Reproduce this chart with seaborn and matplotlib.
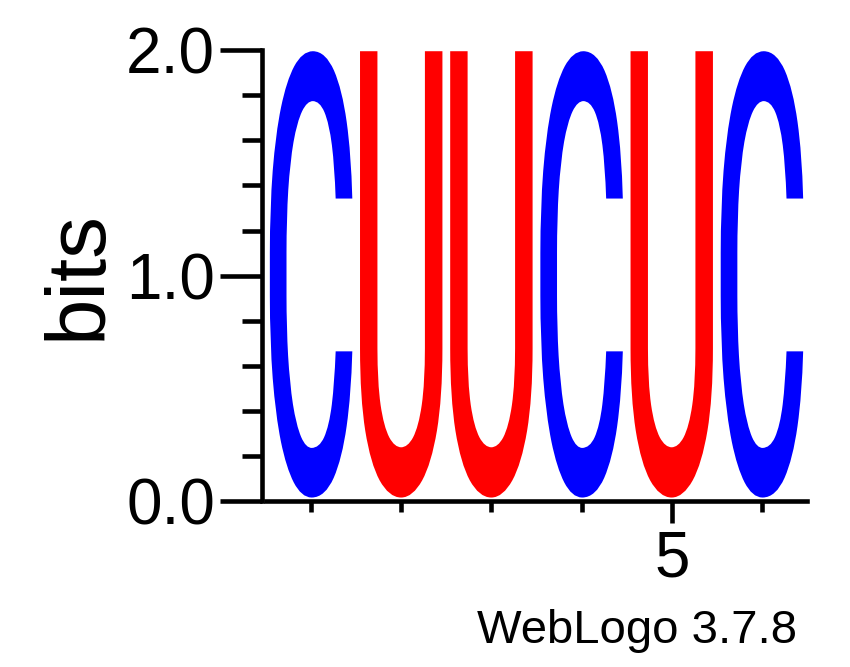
import matplotlib
matplotlib.use("Agg")
import matplotlib.pyplot as plt
import seaborn as sns
from matplotlib.textpath import TextPath
from matplotlib.patches import PathPatch
from matplotlib.font_manager import FontProperties
from matplotlib.transforms import Affine2D
from matplotlib.ticker import MultipleLocator, FixedLocator, FormatStrFormatter

# ? Datos del logo ----------------------------------------------------------

posiciones = [1, 2, 3, 4, 5, 6]
letras = ["C", "U", "U", "C", "U", "C"]
alturas = [2.0, 2.0, 2.0, 2.0, 2.0, 2.0]
colores = {"C": "#0000ff", "U": "#ff0000"}
ticks_x = [5]
etiquetas_x = ["5"]

sns.set_style("ticks")
plt.rcParams['font.family'] = ['Liberation Sans', 'DejaVu Sans']
plt.rcParams['text.color'] = 'black'
plt.rcParams['axes.labelcolor'] = 'black'
plt.rcParams['xtick.color'] = 'black'
plt.rcParams['ytick.color'] = 'black'

fig = plt.figure(figsize=(8.5, 6.67), dpi=100)
ax = fig.add_axes([0.3129, 0.2496, 0.6365, 0.6747])

# ? Letras como paths escalados a su altura --------------------------------

fp = FontProperties(family="Roboto")
ancho = 0.88
for pos, letra, alto in zip(posiciones, letras, alturas):
    tp = TextPath((0, 0), letra, size=1, prop=fp)
    bb = tp.get_extents()
    alto_ink = alto - 0.03
    tr = (Affine2D().translate(-bb.x0, -bb.y0)
          .scale(ancho / bb.width, alto_ink / bb.height)
          .translate(pos - ancho / 2, 0.02))
    ax.add_patch(PathPatch(tr.transform_path(tp), facecolor=colores[letra],
                           edgecolor=colores[letra], lw=2.2, joinstyle='miter'))

ax.set_xlim(0.5, 6.5)
ax.set_ylim(0, 2.0)

# ? Ejes -------------------------------------------------------------------

sns.despine(ax=ax)
ax.spines['left'].set_position(('outward', 3))
for s in ['left', 'bottom']:
    ax.spines[s].set_linewidth(3.3)
    ax.spines[s].set_color('black')

ax.yaxis.set_major_locator(MultipleLocator(1.0))
ax.yaxis.set_minor_locator(MultipleLocator(0.2))
ax.yaxis.set_major_formatter(FormatStrFormatter('%.1f'))
ax.tick_params(axis='y', which='major', length=30, width=3.3, labelsize=46, pad=3.6)
ax.tick_params(axis='y', which='minor', length=14.5, width=3.3)

ax.xaxis.set_major_locator(FixedLocator(ticks_x))
ax.set_xticklabels(etiquetas_x)
ax.xaxis.set_minor_locator(FixedLocator(posiciones))
ax.tick_params(axis='x', which='major', length=16, width=3.3, labelsize=46, pad=5)
ax.tick_params(axis='x', which='minor', length=8, width=3.3)

ax.set_ylabel('bits', fontsize=60)
ax.yaxis.set_label_coords(-0.275, 0.5)

fig.text(797 / 850, 1 - 643 / 667, 'WebLogo 3.7.8', ha='right', va='baseline', fontsize=34)

fig.savefig('out.png', dpi=100)
